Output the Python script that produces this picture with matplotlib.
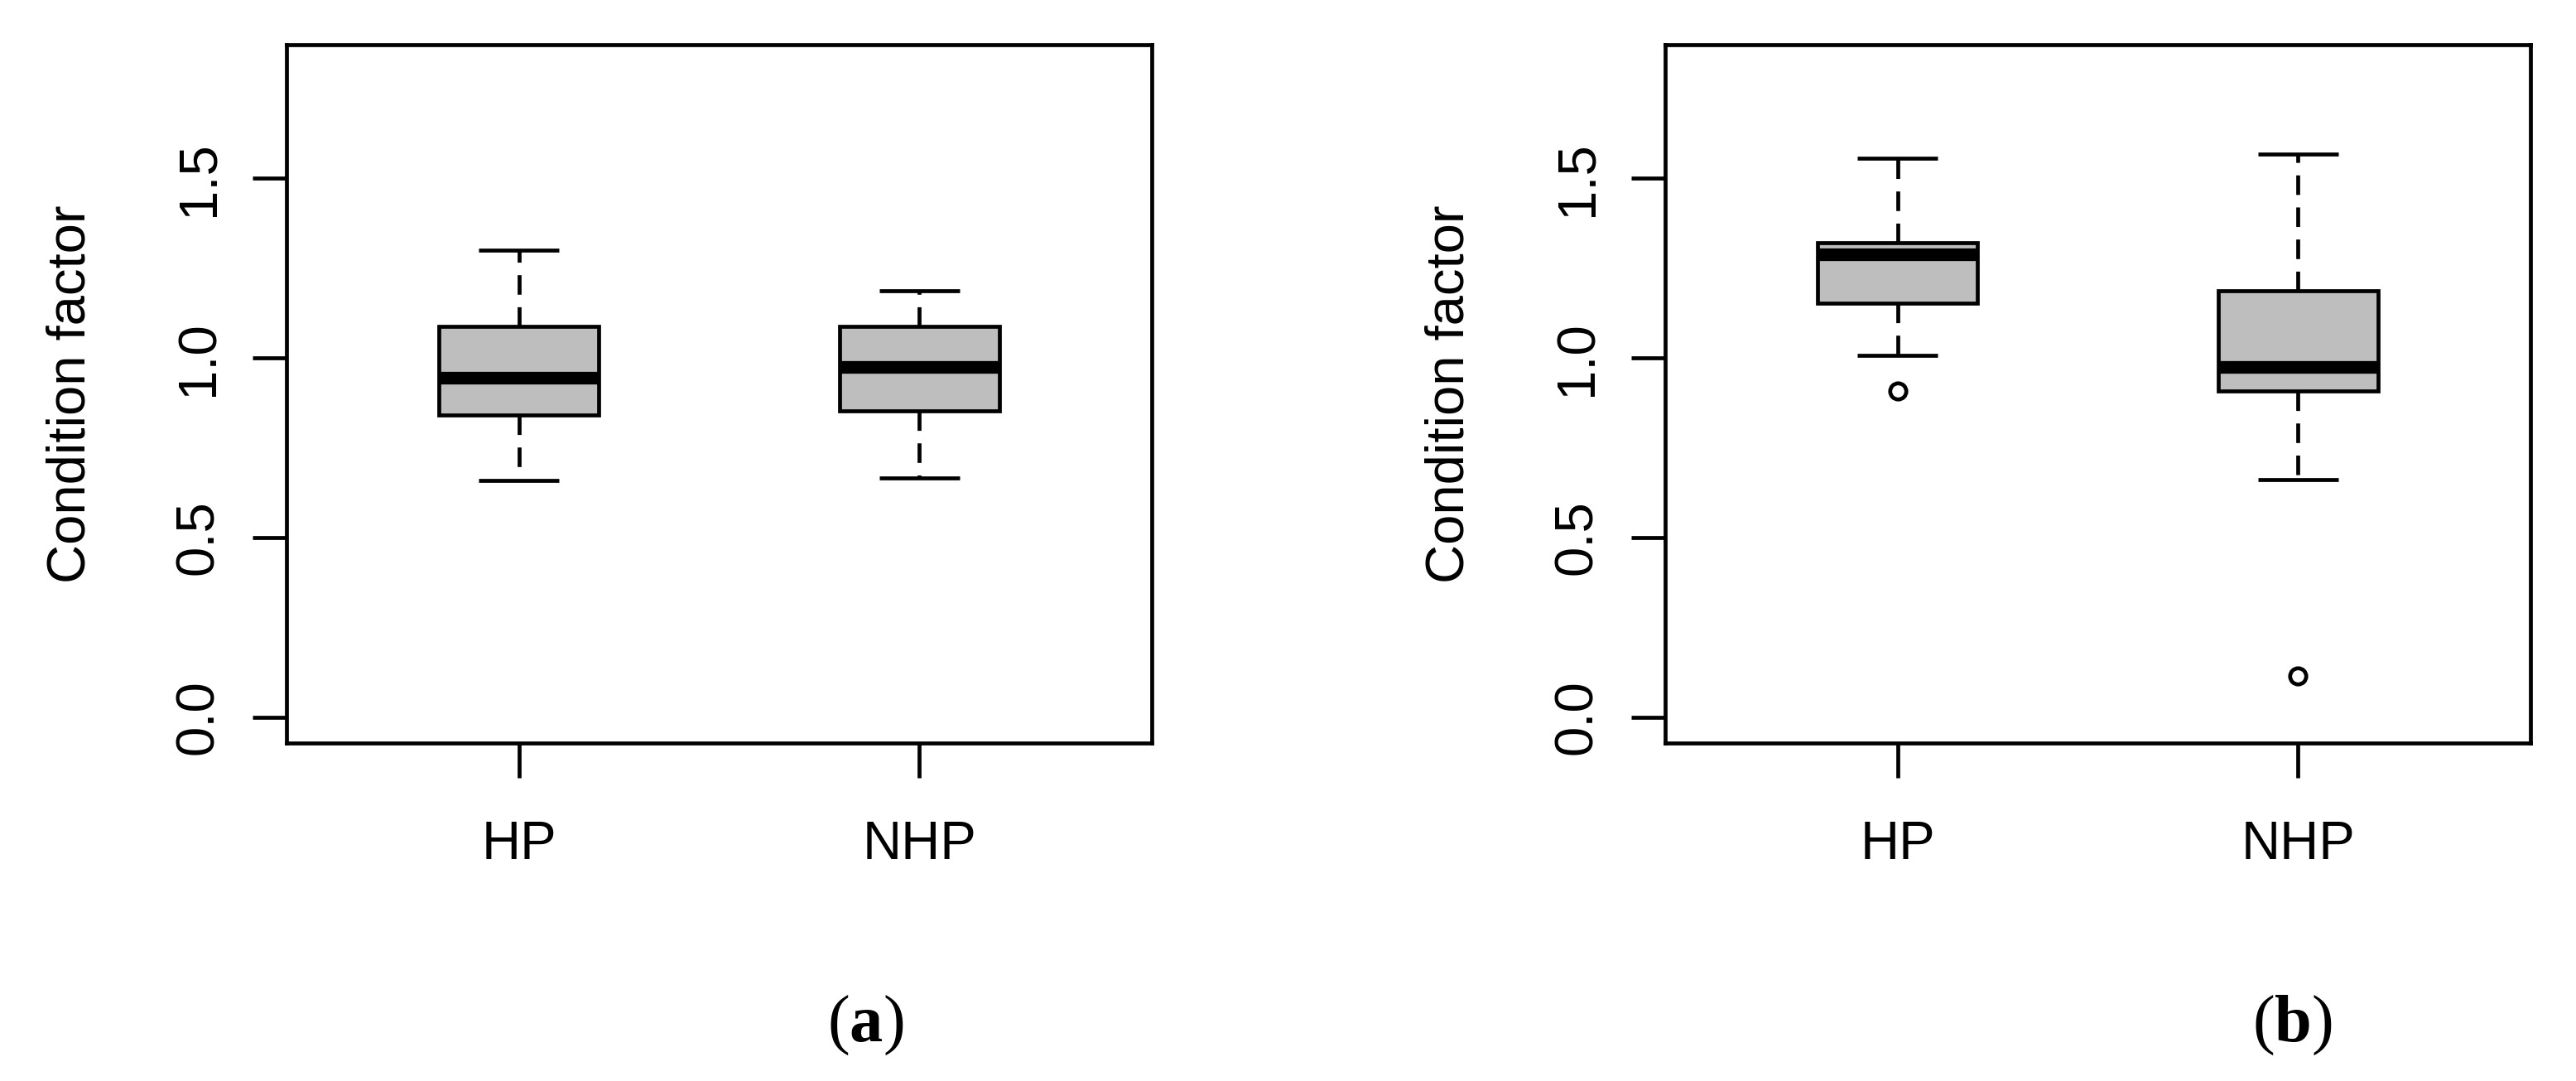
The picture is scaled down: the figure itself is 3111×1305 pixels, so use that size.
import matplotlib
matplotlib.use("Agg")
import matplotlib.pyplot as plt

# group names on the x axis
groups = ["HP", "NHP"]

# panel (a): five number summary per group
a_low = [0.66, 0.665]
a_q1 = [0.842, 0.852]
a_med = [0.944, 0.974]
a_q3 = [1.088, 1.088]
a_high = [1.30, 1.187]
a_out = [[], []]

# panel (b)
b_low = [1.008, 0.662]
b_q1 = [1.153, 0.908]
b_med = [1.288, 0.974]
b_q3 = [1.320, 1.187]
b_high = [1.557, 1.567]
b_out = [[0.908], [0.114]]

y_ticks = [0.0, 0.5, 1.0, 1.5]
y_tick_labels = ["0.0", "0.5", "1.0", "1.5"]
y_title = "Condition factor"
panel_tags = ["a", "b"]

W, H = 3111, 1305
LW = 3.4

plt.rcParams["font.family"] = ["Liberation Sans", "DejaVu Sans"]
plt.rcParams["mathtext.fontset"] = "custom"
plt.rcParams["mathtext.rm"] = "Liberation Serif"
plt.rcParams["mathtext.bf"] = "Liberation Serif:bold"


def make_stats(low, q1, med, q3, high, out):
    """ build the list of dicts that bxp wants """
    stats = []
    for i in range(len(groups)):
        stats.append({"label": groups[i], "whislo": low[i], "q1": q1[i],
                      "med": med[i], "q3": q3[i], "whishi": high[i],
                      "fliers": out[i]})
    return stats


def draw_panel(fig, left_px, stats, tag, tag_x):
    """ one R style boxplot panel """
    ax = fig.add_axes([left_px / W, 1 - 897 / H, 1045 / W, (897 - 54) / H])
    ax.bxp(stats, positions=[1, 2], widths=0.4, capwidths=0.2,
           patch_artist=True, showfliers=True,
           boxprops=dict(facecolor="#bebebe", edgecolor="black", linewidth=LW),
           medianprops=dict(color="black", linewidth=11, solid_capstyle="butt"),
           whiskerprops=dict(color="black", linewidth=LW, linestyle=(0, (5, 3.2))),
           capprops=dict(color="black", linewidth=LW, solid_capstyle="butt"),
           flierprops=dict(marker="o", markerfacecolor="none",
                           markeredgecolor="black", markersize=14,
                           markeredgewidth=LW))

    ax.set_xlim(0.42, 2.58)
    ax.set_ylim(-0.072, 1.872)

    ax.set_xticks([1, 2])
    ax.set_xticklabels(groups)
    ax.set_yticks(y_ticks)
    ax.set_yticklabels(y_tick_labels, rotation=90, va="center")

    ax.tick_params(axis="x", length=30, width=LW, pad=37, labelsize=47)
    ax.tick_params(axis="y", length=29.5, width=LW, pad=25, labelsize=47)
    for spine in ax.spines.values():
        spine.set_linewidth(LW)

    ax.set_ylabel(y_title, fontsize=47)
    ax.yaxis.set_label_coords(-0.221, 0.5)

    # sub figure tag under the panel
    fig.text(tag_x / W, 1 - 1257 / H, "($\\mathbf{" + tag + "}$)",
             ha="center", va="baseline", fontsize=58, family="Liberation Serif")
    return ax


if __name__ == "__main__":
    fig = plt.figure(figsize=(W / 100, H / 100), dpi=100)

    draw_panel(fig, 346, make_stats(a_low, a_q1, a_med, a_q3, a_high, a_out),
               panel_tags[0], 1045)
    draw_panel(fig, 2011, make_stats(b_low, b_q1, b_med, b_q3, b_high, b_out),
               panel_tags[1], 2768)

    fig.savefig("out.png", dpi=100, facecolor="white")
